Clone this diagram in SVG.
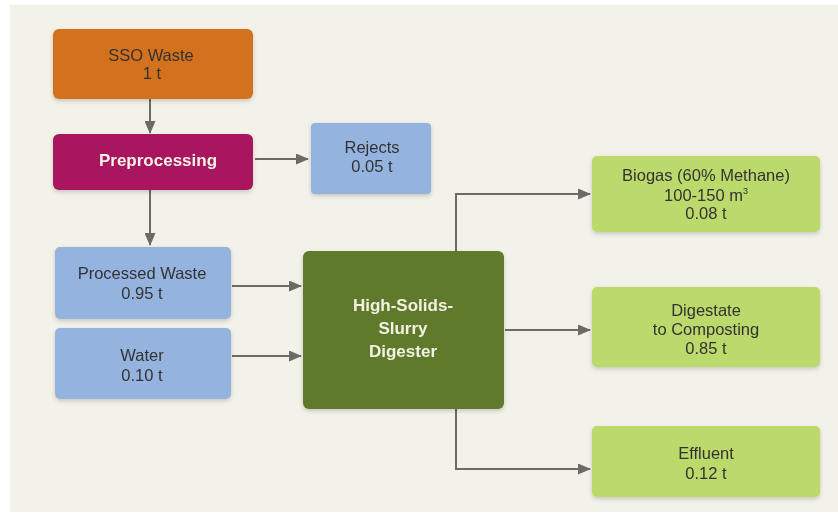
<svg xmlns="http://www.w3.org/2000/svg" width="838" height="516" viewBox="0 0 838 516">
<defs>
<style>
.t{font-family:"Liberation Sans",Arial,sans-serif;font-size:16.5px;fill:#333333;text-anchor:middle}
.b{font-family:"Liberation Sans",Arial,sans-serif;font-size:17px;font-weight:bold;fill:#f4f1e4;text-anchor:middle}
.c{fill:none;stroke:#6a6a66;stroke-width:2;marker-end:url(#ah)}
.blue{fill:#95b3df}
.lg{fill:#bcd96c}
</style>
<marker id="ah" markerWidth="13" markerHeight="11" refX="12" refY="5.5" orient="auto" markerUnits="userSpaceOnUse">
<path d="M0,0 L13,5.5 L0,11 Z" fill="#6a6a66"/>
</marker>
<filter id="sh" x="-10%" y="-10%" width="120%" height="130%">
<feDropShadow dx="0" dy="2" stdDeviation="2" flood-color="#000" flood-opacity="0.18"/>
</filter>
</defs>
<rect width="838" height="516" fill="#ffffff"/>
<rect x="10" y="5" width="828" height="507" fill="#f3f2e9"/>
<g id="connectors">
<path class="c" d="M150,99 V133"/>
<path class="c" d="M255,159 H308"/>
<path class="c" d="M150,190 V245"/>
<path class="c" d="M232,286 H301"/>
<path class="c" d="M232,356 H301"/>
<path class="c" d="M456,251 V194 H590"/>
<path class="c" d="M505,330 H590"/>
<path class="c" d="M456,409 V469 H590"/>
</g>
<g id="sso" filter="url(#sh)">
<rect x="53" y="29" width="200" height="70" rx="6" fill="#d4711f"/>
<text class="t" x="151" y="61">SSO Waste</text>
<text class="t" x="152" y="79">1 t</text>
</g>
<g id="preprocessing" filter="url(#sh)">
<rect x="53" y="134" width="200" height="56" rx="6" fill="#a8155f"/>
<text class="b" x="158" y="166" fill="#f4eef2">Preprocessing</text>
</g>
<g id="rejects" filter="url(#sh)">
<rect class="blue" x="311" y="123" width="120" height="71" rx="4"/>
<text class="t" x="372" y="153">Rejects</text>
<text class="t" x="372" y="172">0.05 t</text>
</g>
<g id="processed" filter="url(#sh)">
<rect class="blue" x="55" y="247" width="176" height="72" rx="5"/>
<text class="t" x="142" y="279">Processed Waste</text>
<text class="t" x="142" y="299">0.95 t</text>
</g>
<g id="water" filter="url(#sh)">
<rect class="blue" x="55" y="328" width="176" height="71" rx="5"/>
<text class="t" x="142" y="361">Water</text>
<text class="t" x="142" y="381">0.10 t</text>
</g>
<g id="digester" filter="url(#sh)">
<rect x="303" y="251" width="201" height="158" rx="6" fill="#5f7a2b"/>
<text class="b" x="403" y="311">High-Solids-</text>
<text class="b" x="403" y="334">Slurry</text>
<text class="b" x="403" y="357">Digester</text>
</g>
<g id="biogas" filter="url(#sh)">
<rect class="lg" x="592" y="156" width="228" height="76" rx="5"/>
<text class="t" x="706" y="181">Biogas (60% Methane)</text>
<text class="t" x="706" y="201">100-150 m<tspan font-size="9" dy="-7">3</tspan></text>
<text class="t" x="706" y="219">0.08 t</text>
</g>
<g id="digestate" filter="url(#sh)">
<rect class="lg" x="592" y="287" width="228" height="80" rx="5"/>
<text class="t" x="706" y="316">Digestate</text>
<text class="t" x="706" y="335">to Composting</text>
<text class="t" x="706" y="354">0.85 t</text>
</g>
<g id="effluent" filter="url(#sh)">
<rect class="lg" x="592" y="426" width="228" height="71" rx="5"/>
<text class="t" x="706" y="459">Effluent</text>
<text class="t" x="706" y="479">0.12 t</text>
</g>
</svg>
